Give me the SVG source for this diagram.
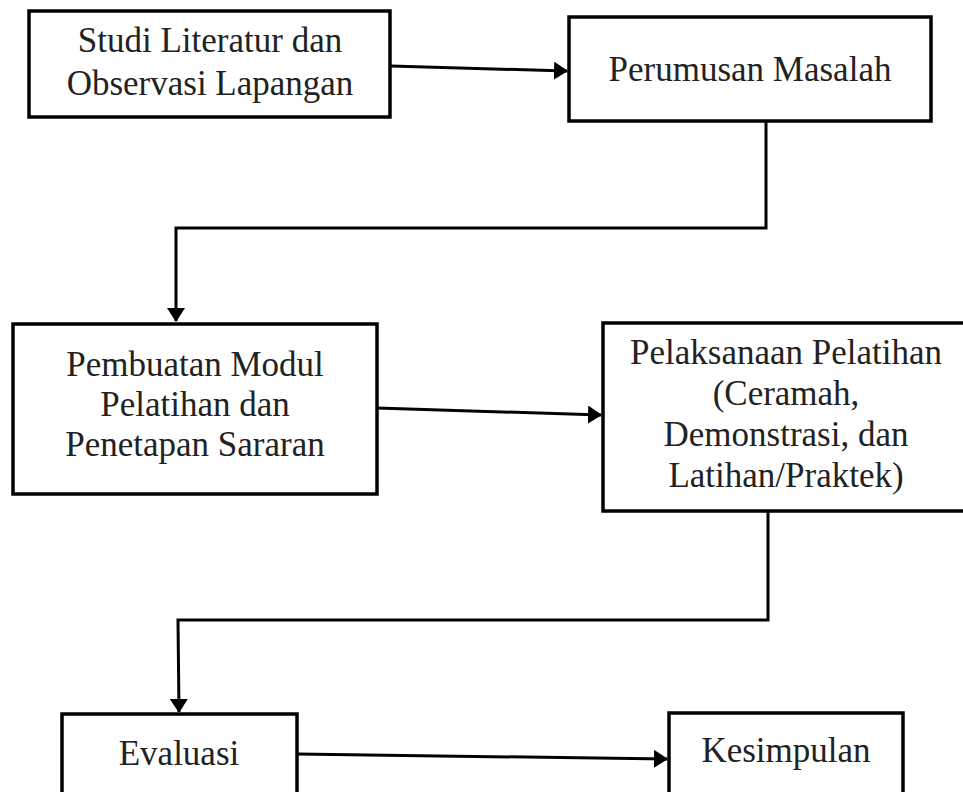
<svg xmlns="http://www.w3.org/2000/svg" width="963" height="792" viewBox="0 0 963 792">
<style>
.box{fill:#fff;stroke:#000;stroke-width:3.5}
.lbl{font-family:"Liberation Serif","Times New Roman",serif;font-size:35px;fill:#222;text-anchor:middle}
.con{fill:none;stroke:#000;stroke-width:3}
</style>
<defs>
<marker id="ah" viewBox="0 0 14 18" refX="13" refY="9" markerWidth="14" markerHeight="18" markerUnits="userSpaceOnUse" orient="auto">
<path d="M0,0 L14,9 L0,18 z" fill="#000"/>
</marker>
</defs>
<rect width="963" height="792" fill="#fff"/>
<g id="connectors">
<path class="con" d="M391,66 L567,71" marker-end="url(#ah)"/>
<path class="con" d="M766,121 V228 H176 V321" marker-end="url(#ah)"/>
<path class="con" d="M377,408 L601,415" marker-end="url(#ah)"/>
<path class="con" d="M768,511 V620 H178 L179,712" marker-end="url(#ah)"/>
<path class="con" d="M297,754 L667,759" marker-end="url(#ah)"/>
</g>
<g id="studi">
<rect class="box" x="29" y="11" width="361" height="106"/>
<text class="lbl" x="210" y="52">Studi Literatur dan</text>
<text class="lbl" x="210" y="95">Observasi Lapangan</text>
</g>
<g id="perumusan">
<rect class="box" x="569" y="17" width="362" height="104"/>
<text class="lbl" x="750" y="81">Perumusan Masalah</text>
</g>
<g id="pembuatan">
<rect class="box" x="13" y="324" width="364" height="170"/>
<text class="lbl" x="195" y="376">Pembuatan Modul</text>
<text class="lbl" x="195" y="416">Pelatihan dan</text>
<text class="lbl" x="195" y="456">Penetapan Sararan</text>
</g>
<g id="pelaksanaan">
<rect class="box" x="603" y="323" width="366" height="188"/>
<text class="lbl" x="786" y="364">Pelaksanaan Pelatihan</text>
<text class="lbl" x="786" y="405">(Ceramah,</text>
<text class="lbl" x="786" y="446">Demonstrasi, dan</text>
<text class="lbl" x="786" y="487">Latihan/Praktek)</text>
</g>
<g id="evaluasi">
<rect class="box" x="62" y="714" width="235" height="90"/>
<text class="lbl" x="179" y="765">Evaluasi</text>
</g>
<g id="kesimpulan">
<rect class="box" x="669" y="713" width="234" height="90"/>
<text class="lbl" x="786" y="762">Kesimpulan</text>
</g>
</svg>
